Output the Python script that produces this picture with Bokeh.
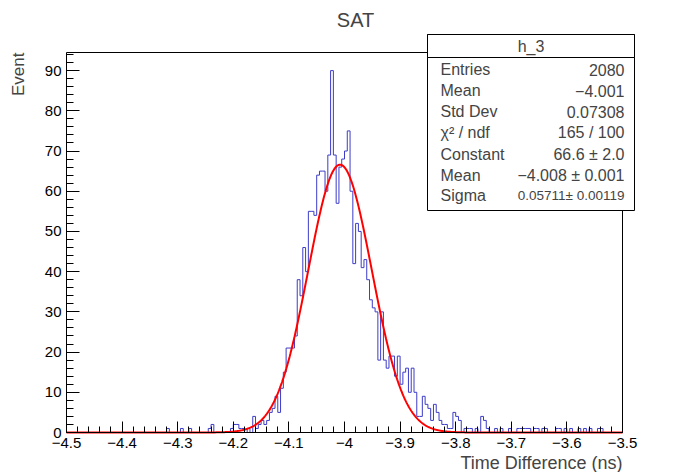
import numpy as np
from bokeh.plotting import figure
from bokeh.models import FixedTicker, Label, BoxAnnotation, LinearAxis
from bokeh.embed import file_html
from bokeh.resources import INLINE

# ---------------- data ----------------
x_min, x_max = -4.5, -3.5
n_bins = 200
counts = [
    # bins 0-34
    0, 0, 0, 0, 0, 0, 0, 0, 0, 0, 0, 0, 0, 0, 0, 0, 0, 0, 0, 0,
    0, 0, 0, 0, 0, 0, 0, 0, 0, 0, 0, 0, 0, 0, 0,
    # bins 35-66
    0, 1, 0, 0, 0, 0, 1, 0, 0, 1, 0, 0, 0, 0, 0, 0, 1, 2, 0, 0,
    0, 0, 0, 0, 1, 2, 2, 1, 1, 0, 1, 0,
    # bins 67-78
    4, 1, 2, 3, 2, 3, 5, 6, 9, 5, 11, 15,
    # bins 79-126
    21, 21, 21, 24, 38, 34, 46, 40, 55, 55, 54, 64, 65, 65, 60, 69, 90, 69, 57, 66,
    68, 70, 75, 60, 42, 52, 50, 41, 43, 38, 33, 31, 30, 18, 30, 18, 16, 19, 19, 14,
    19, 12, 15, 16, 10, 16, 10, 4,
    # bins 127-141
    4, 9, 7, 6, 3, 7, 5, 3, 2, 2, 1, 1, 5, 4, 3,
    # bins 142-199
    0, 1, 1, 1, 0, 1, 0, 4, 3, 1, 0, 0, 1, 0, 1, 0, 0, 1, 0, 0,
    1, 1, 1, 1, 1, 0, 1, 1, 0, 1, 1, 0, 0, 0, 1, 1, 0, 1, 0, 1,
    0, 0, 1, 0, 1, 0, 1, 0, 0, 1, 1, 0, 0, 0, 0, 0, 0, 0,
]
fit_constant = 66.6
fit_mean = -4.008
fit_sigma = 0.05711

x_ticks = [-4.5, -4.4, -4.3, -4.2, -4.1, -4.0, -3.9, -3.8, -3.7, -3.6, -3.5]
x_tick_labels = ["\u22124.5", "\u22124.4", "\u22124.3", "\u22124.2", "\u22124.1", "\u22124",
                 "\u22123.9", "\u22123.8", "\u22123.7", "\u22123.6", "\u22123.5"]
y_ticks = [0, 10, 20, 30, 40, 50, 60, 70, 80, 90]
y_tick_labels = ["0", "10", "20", "30", "40", "50", "60", "70", "80", "90"]

title_text = "SAT"
x_label = "Time Difference (ns)"
y_label = "Event"
stats_title = "h_3"
stats_names = ["Entries", "Mean", "Std Dev", "\u03c7\u00b2 / ndf", "Constant", "Mean", "Sigma"]
stats_values = ["2080", "\u22124.001", "0.07308", "165 / 100", "66.6 \u00b1 2.0",
                "\u22124.008 \u00b1 0.001", "0.05711\u00b1 0.00119"]

# ---------------- layout ----------------
W, H = 675, 472
FL, FT, FW, FH = 66, 52, 556, 380          # ROOT frame in canvas pixels
y_max = 94.5
FONT = "Liberation Sans"
sx = (x_max - x_min) / FW                   # data units per pixel
sy = y_max / FH


def dx(px):
    return x_min + (px - FL) * sx


def dy(py):
    return (FT + FH - py) * sy


p = figure(width=W, height=H, min_border=0,
           x_range=(dx(0), dx(W)), y_range=(dy(H), dy(0)),
           output_backend="svg", toolbar_location=None,
           background_fill_color="white", border_fill_color="white")
p.xgrid.visible = False
p.ygrid.visible = False
p.outline_line_color = None

x_minor = [round(x_min + 0.02 * k, 2) for k in range(51)]
y_minor = list(range(0, 96, 2))

xa = p.xaxis[0]
ya = p.yaxis[0]
xa.fixed_location = 0
xa.bounds = (x_min, x_max)
ya.fixed_location = x_min
ya.bounds = (0, y_max)
xa.ticker = FixedTicker(ticks=x_ticks, minor_ticks=x_minor)
ya.ticker = FixedTicker(ticks=y_ticks, minor_ticks=y_minor)
xa.major_label_overrides = {t: l for t, l in zip(x_ticks, x_tick_labels)}
ya.major_label_overrides = {t: l for t, l in zip(y_ticks, y_tick_labels)}

for ax, maj, mnr in ((xa, 11, 6), (ya, 13, 7)):
    ax.major_tick_in = maj
    ax.major_tick_out = 0
    ax.minor_tick_in = mnr
    ax.minor_tick_out = 0
    ax.major_tick_line_color = "black"
    ax.minor_tick_line_color = "black"
    ax.axis_line_color = "black"
    ax.major_label_text_font = FONT
    ax.major_label_text_font_size = "15px"
    ax.major_label_text_color = "black"
    ax.major_label_standoff = 5

# frame top and right edges (tick-less axes)
top_ax = LinearAxis(fixed_location=y_max, bounds=(x_min, x_max),
                    ticker=FixedTicker(ticks=[], minor_ticks=[]),
                    major_tick_line_color=None, minor_tick_line_color=None,
                    major_label_text_alpha=0, axis_line_color="black")
right_ax = LinearAxis(fixed_location=x_max, bounds=(0, y_max),
                      ticker=FixedTicker(ticks=[], minor_ticks=[]),
                      major_tick_line_color=None, minor_tick_line_color=None,
                      major_label_text_alpha=0, axis_line_color="black")
p.add_layout(top_ax, "above")
p.add_layout(right_ax, "right")

# histogram (step outline)
edges = np.linspace(x_min, x_max, n_bins + 1)
p.step(edges, list(counts) + [counts[-1]], mode="after",
       line_color="#3c3cc8", line_width=1)

# gaussian fit curve
xf = np.linspace(x_min, x_max, 1200)
yf = fit_constant * np.exp(-0.5 * ((xf - fit_mean) / fit_sigma) ** 2)
p.line(xf, yf, line_color="#ff0000", line_width=2)

# title & axis labels
p.add_layout(Label(x=dx(355), y=dy(19), text=title_text, text_font=FONT,
                   text_font_size="20px", text_align="center", text_baseline="middle"))
p.add_layout(Label(x=dx(FL + FW), y=dy(462), text=x_label, text_font=FONT,
                   text_font_size="18px", text_align="right", text_baseline="middle"))
p.add_layout(Label(x=dx(18), y=dy(FT), text=y_label, text_font=FONT, angle=np.pi / 2,
                   text_font_size="17px", text_align="right", text_baseline="middle"))

# stats box
bl, br, bt, bb, hb = 427, 634, 34, 210, 57
p.add_layout(BoxAnnotation(left=dx(bl), right=dx(br), top=dy(bt), bottom=dy(bb),
                           fill_color="white", fill_alpha=1.0,
                           line_color="black", line_width=1, line_alpha=1.0))
p.add_layout(BoxAnnotation(left=dx(bl), right=dx(br), top=dy(bt), bottom=dy(hb),
                           fill_color="white", fill_alpha=1.0,
                           line_color="black", line_width=1, line_alpha=1.0))
p.add_layout(Label(x=dx((bl + br) / 2), y=dy(46), text=stats_title, text_font=FONT,
                   text_font_size="16px", text_align="center", text_baseline="middle"))
row_y = [69, 90, 111, 132, 154, 175, 195]
value_sizes = ["16px", "16px", "16px", "16px", "16px", "16px", "13.5px"]
for ry, nm, vl, vs in zip(row_y, stats_names, stats_values, value_sizes):
    p.add_layout(Label(x=dx(440), y=dy(ry), text=nm, text_font=FONT,
                       text_font_size="16px", text_align="left", text_baseline="middle"))
    p.add_layout(Label(x=dx(624), y=dy(ry), text=vl, text_font=FONT,
                       text_font_size=vs, text_align="right", text_baseline="middle"))

open("out.html", "w").write(file_html(p, INLINE))
